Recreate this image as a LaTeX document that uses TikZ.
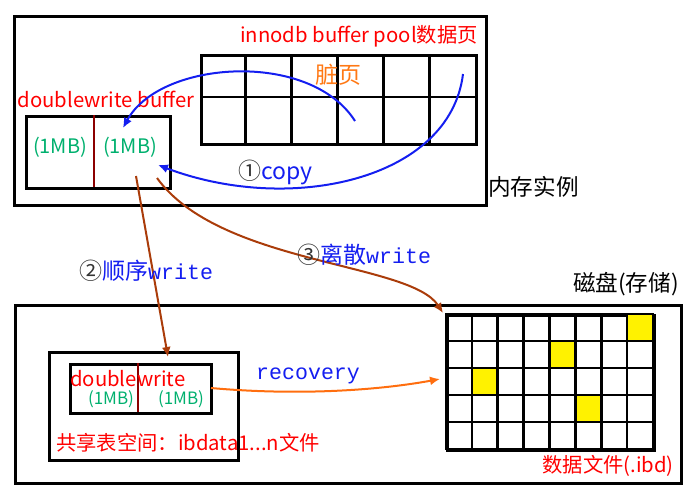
\documentclass[tikz,border=0pt]{standalone}
\usepackage{fontspec}
\setmainfont{Noto Sans CJK SC}
\setmonofont{Liberation Mono}
\usetikzlibrary{arrows.meta}
\definecolor{labelred}{RGB}{255,0,0}
\definecolor{mbgreen}{RGB}{0,176,110}
\definecolor{copyblue}{RGB}{20,30,240}
\definecolor{writebrown}{RGB}{170,60,10}
\definecolor{recorange}{RGB}{255,110,15}
\definecolor{dividered}{RGB}{140,0,0}
\definecolor{dirtyorange}{RGB}{255,120,20}
\tikzset{
    box/.style={draw, line width=3pt, inner sep=0pt, anchor=north west},
    gridline/.style={line width=2.7pt},
    divider/.style={draw=dividered, line width=2.6pt},
    redlabel/.style={text=labelred, font=\fontsize{20.3}{22}\selectfont, inner sep=0pt},
    mblabel/.style={text=mbgreen, font=\fontsize{20}{22}\selectfont, inner sep=0pt},
    smallmb/.style={text=mbgreen, font=\fontsize{17}{19}\selectfont, inner sep=0pt},
    steplabel/.style={text=copyblue, font=\fontsize{23}{25}\selectfont, inner sep=0pt},
    blacklabel/.style={text=black, font=\fontsize{22.6}{24}\selectfont, inner sep=0pt},
    bluearrow/.style={draw=copyblue, line width=2pt, -{Latex[length=10pt,width=9pt]}},
    brownarrow/.style={draw=writebrown, line width=2pt, -{Latex[length=10pt,width=9pt]}},
    orangearrow/.style={draw=recorange, line width=2pt, -{Latex[length=10pt,width=9pt]}},
}
\newcommand{\circnum}[1]{{\color{black!80}#1}}
\newcommand{\monoword}[1]{{\fontsize{21.6}{24}\selectfont\texttt{#1}}}
\begin{document}
\begin{tikzpicture}[x=1pt, y=-1pt]
    \useasboundingbox (0,0) rectangle (694,491);
    %memory instance
    \node[box, minimum width=472pt, minimum height=189pt] (mem) at (13,15) {};
    \node[blacklabel, anchor=west] (memlabel) at (488,187) {内存实例};
    %buffer pool pages
    \node[box, minimum width=275pt, minimum height=89pt] (pool) at (200,54) {};
    \foreach \i in {1,...,5}
        \draw[gridline] ({200+\i*275/6},54) -- ({200+\i*275/6},143);
    \draw[gridline] (200,97) -- (475,97);
    \node[redlabel, anchor=south east] (poollabel) at (478,47) {innodb buffer pool数据页};
    \node[text=dirtyorange, font=\fontsize{23}{25}\selectfont, inner sep=0pt] (dirty) at (338,75) {脏页};
    %doublewrite buffer in memory
    \node[box, minimum width=144pt, minimum height=72pt] (dwbuf) at (25,115) {};
    \draw[divider] (94,115) -- (94,187);
    \node[redlabel] (dwlabel) at (106,99) {doublewrite buffer};
    \node[mblabel] (mbleft) at (60,147) {(1MB)};
    \node[mblabel] (mbright) at (130,147) {(1MB)};
    %disk
    \node[box, minimum width=666pt, minimum height=178pt] (disk) at (14,304) {};
    \node[blacklabel, anchor=east] (disklabel) at (679,284) {磁盘(存储)};
    %shared tablespace
    \node[box, minimum width=189pt, minimum height=108pt] (shared) at (48,351) {};
    \node[box, minimum width=141pt, minimum height=49pt] (dwdisk) at (69,363) {};
    \draw[divider] (138,363) -- (138,412);
    \node[redlabel, anchor=west] (dwdisklabel) at (70,379) {doublewrite};
    \node[smallmb] (smallleft) at (111,399) {(1MB)};
    \node[smallmb] (smallright) at (181,399) {(1MB)};
    \node[redlabel, anchor=west] (sharedlabel) at (56,443) {共享表空间：ibdata1...n文件};
    %data file pages
    \node[box, minimum width=207pt, minimum height=135pt] (datafile) at (446,314) {};
    \foreach \c/\r in {7/0, 4/1, 1/2, 5/3}
        \fill[yellow] ({446+\c*207/8},{314+\r*27}) rectangle ({446+(\c+1)*207/8},{314+(\r+1)*27});
    \foreach \i in {1,...,7}
        \draw[gridline] ({446+\i*207/8},314) -- ({446+\i*207/8},449);
    \foreach \j in {1,...,4}
        \draw[gridline] (446,{314+\j*27}) -- (653,{314+\j*27});
    \draw[gridline] (446,314) rectangle (653,449);
    \node[redlabel, anchor=east] (datalabel) at (674,466) {数据文件(.ibd)};
    %arrows
    \coordinate (dirtyA) at (355,121);
    \coordinate (dirtyB) at (463,74);
    \coordinate (dwtop) at (123,128);
    \coordinate (dwright) at (158,165);
    \coordinate (seqstart) at (136,176);
    \coordinate (seqend) at (168,357);
    \coordinate (randstart) at (157,178);
    \coordinate (randend) at (443,313);
    \coordinate (recstart) at (211,388);
    \coordinate (recend) at (440,379);
    \draw[bluearrow] (dirtyA) .. controls (310,50) and (160,60) .. (dwtop);
    \draw[bluearrow] (dirtyB) .. controls (450,180) and (290,215) .. (dwright);
    \draw[brownarrow] (seqstart) -- (seqend);
    \draw[brownarrow] (randstart) .. controls (220,265) and (410,262) .. (randend);
    \draw[orangearrow] (recstart) .. controls (300,396) and (380,390) .. (recend);
    %step labels
    \node[steplabel, anchor=west] (copylabel) at (238,172) {\circnum{①}copy};
    \node[steplabel, anchor=west] (seqlabel) at (79,271) {\circnum{②}顺序\monoword{write}};
    \node[steplabel, anchor=west] (randlabel) at (297,255) {\circnum{③}离散\monoword{write}};
    \node[steplabel, anchor=west] (reclabel) at (256,376) {\monoword{recovery}};
\end{tikzpicture}
\end{document}
